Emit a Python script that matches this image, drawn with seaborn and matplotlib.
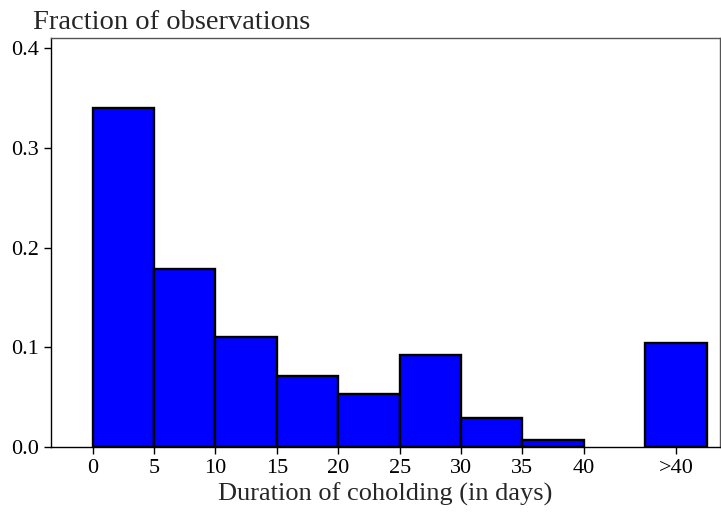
import matplotlib
matplotlib.use('Agg')
import matplotlib.pyplot as plt
import seaborn as sns
import numpy as np

# Data
bin_edges = [0, 5, 10, 15, 20, 25, 30, 35, 40, 45, 50]
bin_mids = [2.5, 7.5, 12.5, 17.5, 22.5, 27.5, 32.5, 37.5, 42.5, 47.5]
fractions = [0.340, 0.178, 0.110, 0.071, 0.053, 0.092, 0.029, 0.007, 0.0, 0.104]
tick_pos = [0, 5, 10, 15, 20, 25, 30, 35, 40, 47.5]
tick_labels = ['0', '5', '10', '15', '20', '25', '30', '35', '40', '>40']

sns.set_style('white')
plt.rcParams['font.family'] = ['Liberation Serif', 'DejaVu Serif']

fig = plt.figure(figsize=(7.21, 5.13), dpi=100)
ax = fig.add_axes([0.0707, 0.1287, 0.928, 0.797])

sns.histplot(x=bin_mids, weights=fractions, bins=bin_edges, ax=ax,
             color='#0000ff', alpha=1, edgecolor='black', linewidth=1.7)
# empty bin (40-45) has no visible outline
for p in ax.patches:
    if p.get_height() == 0:
        p.set_linewidth(0)

ax.set_xlim(-3.4, 51.1)
ax.set_ylim(0, 0.41)
ax.set_xticks(tick_pos)
ax.set_xticklabels(tick_labels)
ax.set_yticks([0, 0.1, 0.2, 0.3, 0.4])
ax.set_yticklabels(['0.0', '0.1', '0.2', '0.3', '0.4'])
ax.tick_params(axis='both', direction='out', length=5, width=1,
               labelsize=16, bottom=True, left=True, colors='black')
ax.tick_params(axis='x', pad=4)
ax.set_ylabel('')
ax.set_xlabel('Duration of coholding (in days)', fontsize=19, labelpad=3)
for s in ax.spines.values():
    s.set_color('black')
    s.set_linewidth(1)
ax.spines['top'].set_color('#555555')
ax.spines['right'].set_color('#555555')

fig.text(0.046, 0.956, 'Fraction of observations', fontsize=20.5, ha='left', va='center')

fig.savefig('out.png', dpi=100)
